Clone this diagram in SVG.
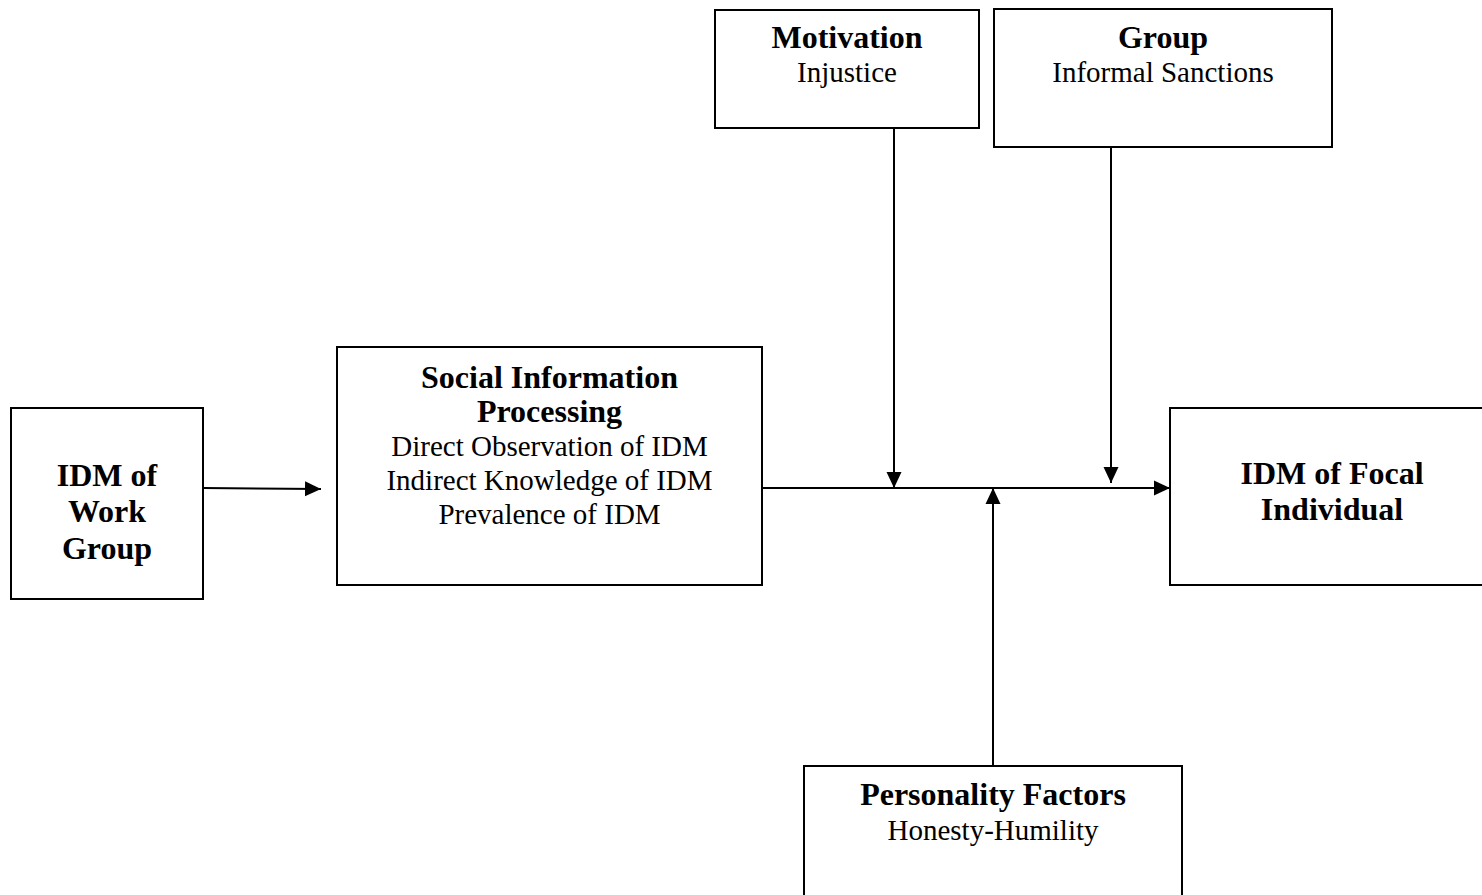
<svg xmlns="http://www.w3.org/2000/svg" width="1482" height="895" viewBox="0 0 1482 895">
<defs>
<style>
.box{fill:#fff;stroke:#000;stroke-width:2}
.t{font-family:"Liberation Serif","Times New Roman",serif;font-size:29px;fill:#000;text-anchor:middle}
.b{font-weight:bold;font-size:32px}
.c{stroke:#000;stroke-width:2;fill:none;marker-end:url(#ah)}
</style>
<marker id="ah" markerUnits="userSpaceOnUse" markerWidth="16" markerHeight="16" refX="16" refY="8" orient="auto">
<path d="M0,0.5 L16,8 L0,15.5 z" fill="#000"/>
</marker>
</defs>
<rect width="1482" height="895" fill="#fff"/>
<g id="connectors">
<line class="c" x1="203" y1="488" x2="321" y2="489"/>
<line class="c" x1="762" y1="488" x2="1170" y2="488"/>
<line class="c" x1="894" y1="128" x2="894" y2="488"/>
<line class="c" x1="1111" y1="147" x2="1111" y2="483"/>
<line class="c" x1="993" y1="766" x2="993" y2="488"/>
</g>
<g id="motivation">
<rect class="box" x="715" y="10" width="264" height="118"/>
<text class="t b" x="847" y="48">Motivation</text>
<text class="t" x="847" y="82">Injustice</text>
</g>
<g id="group">
<rect class="box" x="994" y="9" width="338" height="138"/>
<text class="t b" x="1163" y="48">Group</text>
<text class="t" x="1163" y="82">Informal Sanctions</text>
</g>
<g id="idm-work-group">
<rect class="box" x="11" y="408" width="192" height="191"/>
<text class="t b" x="107" y="486">IDM of</text>
<text class="t b" x="107" y="522">Work</text>
<text class="t b" x="107" y="559">Group</text>
</g>
<g id="sip">
<rect class="box" x="337" y="347" width="425" height="238"/>
<text class="t b" x="549.5" y="388">Social Information</text>
<text class="t b" x="549.5" y="422">Processing</text>
<text class="t" x="549.5" y="456">Direct Observation of IDM</text>
<text class="t" x="549.5" y="490">Indirect Knowledge of IDM</text>
<text class="t" x="549.5" y="524">Prevalence of IDM</text>
</g>
<g id="idm-focal">
<rect class="box" x="1170" y="408" width="324" height="177"/>
<text class="t b" x="1332" y="484">IDM of Focal</text>
<text class="t b" x="1332" y="520">Individual</text>
</g>
<g id="personality">
<rect class="box" x="804" y="766" width="378" height="140"/>
<text class="t b" x="993" y="805">Personality Factors</text>
<text class="t" x="993" y="840">Honesty-Humility</text>
</g>
</svg>
